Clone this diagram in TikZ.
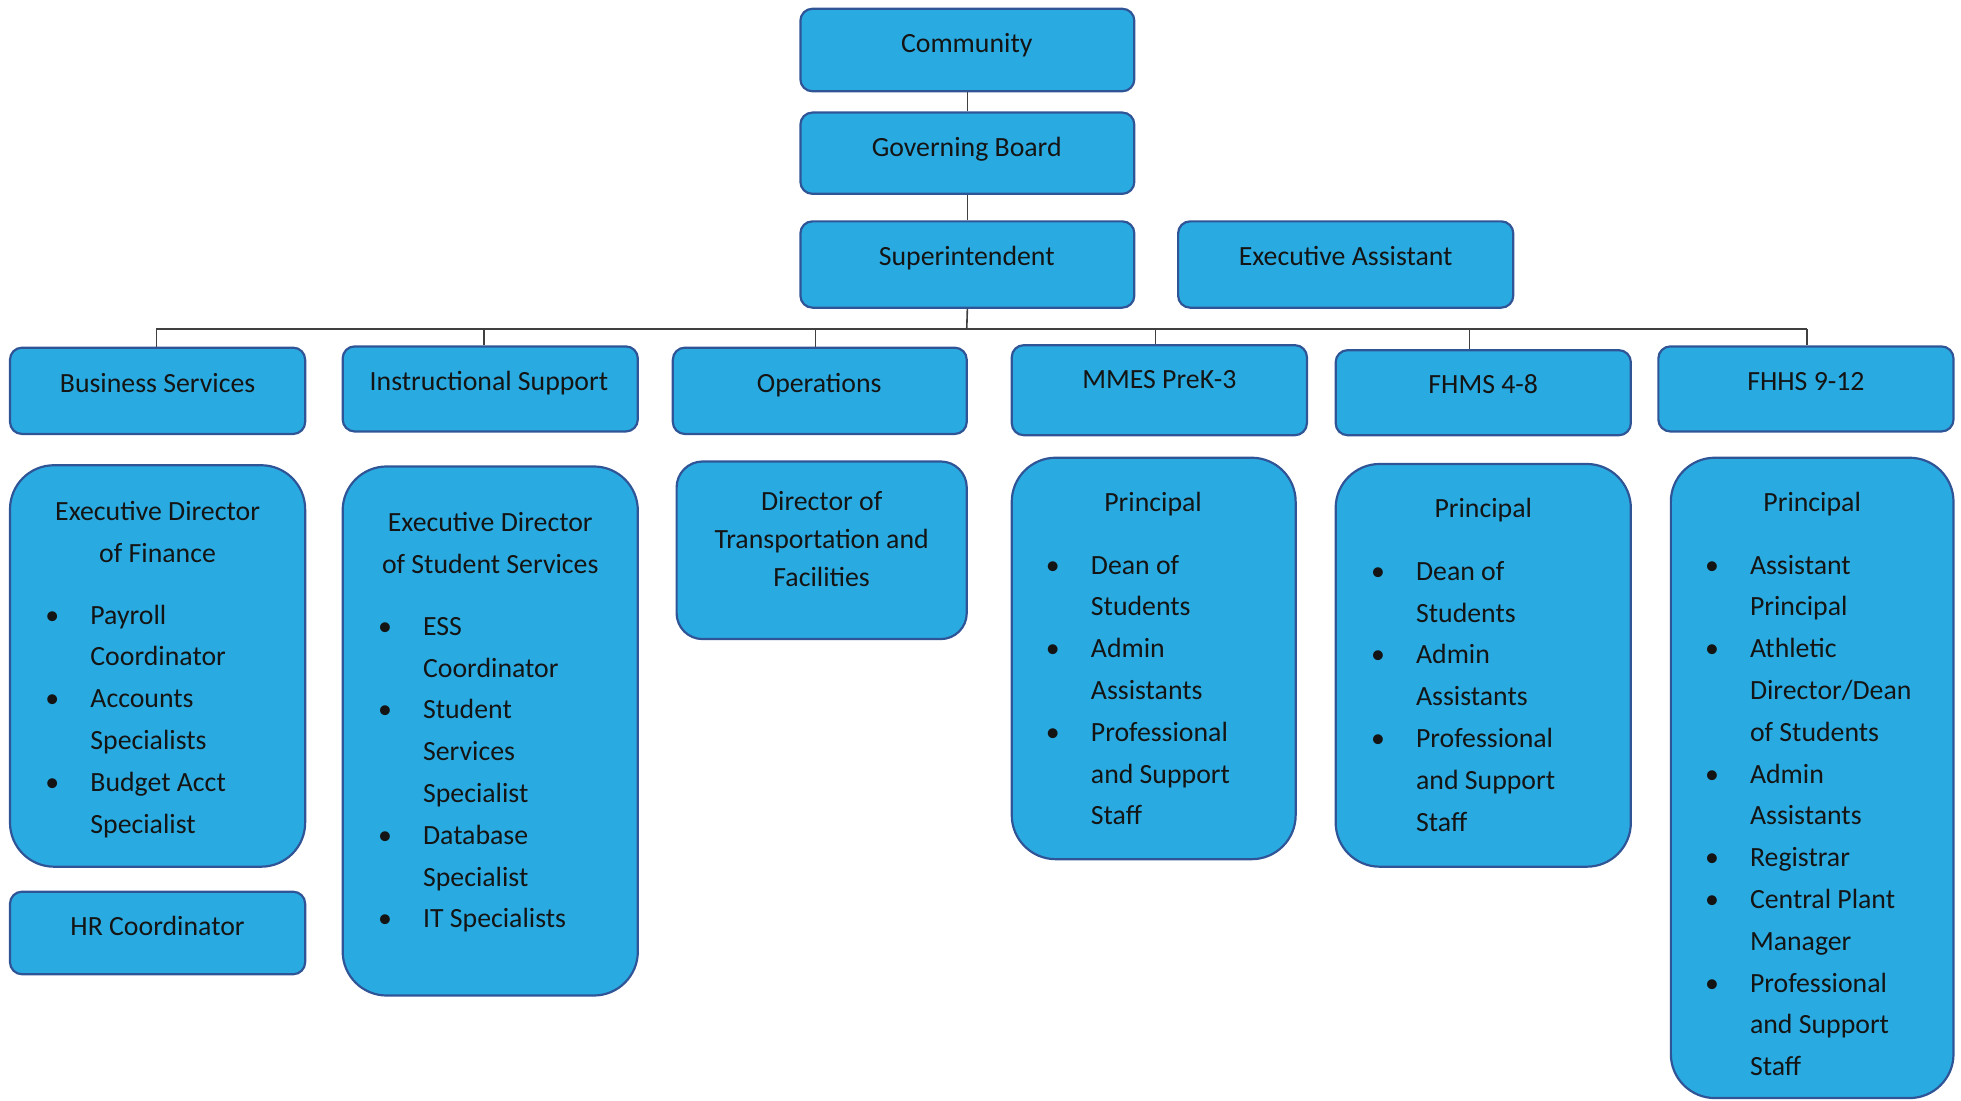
\documentclass[tikz,border=0pt]{standalone}
\usepackage{fontspec}
\setmainfont{Carlito}
\definecolor{boxfill}{HTML}{29ABE2}
\definecolor{boxedge}{HTML}{2F5597}
\definecolor{txt}{HTML}{141414}
\definecolor{linkgray}{HTML}{404040}
\tikzset{
  wh/.style 2 args={minimum width=#1*0.6253pt, minimum height=#2*0.6253pt},
  orgbox/.style={draw=boxedge, fill=boxfill, line width=1.1pt, rounded corners=6pt, inner sep=0pt},
  bigbox/.style={orgbox, rounded corners=22pt},
  midbox/.style={orgbox, rounded corners=13pt},
  lbl/.style={anchor=base, inner sep=0pt, text=txt, font=\fontsize{13.9}{20.9}\selectfont},
  lst/.style={anchor=base west, inner sep=0pt, text=txt, font=\fontsize{13.9}{20.9}\selectfont},
  link/.style={draw=linkgray, line width=0.8pt}
}
\begin{document}
\begin{tikzpicture}[x=0.6253pt,y=-0.6253pt]
\useasboundingbox (0,0) rectangle (1568,880);
% top chain
\node[orgbox, wh={267}{66}] (comm) at (773.5,40) {};
\node[orgbox, wh={267}{65}] (gov) at (773.5,122.5) {};
\node[orgbox, wh={267}{69}] (sup) at (773.5,211.5) {};
\node[orgbox, wh={268}{69}] (ea) at (1076,211.5) {};
% departments
\node[orgbox, wh={236}{69}] (bs) at (126,312.5) {};
\node[orgbox, wh={236}{68}] (is) at (392,311) {};
\node[orgbox, wh={235}{69}] (ops) at (655.5,312.5) {};
\node[orgbox, wh={236}{72}] (mmes) at (927,312) {};
\node[orgbox, wh={236}{68}] (fhms) at (1186,314) {};
\node[orgbox, wh={236}{68}] (fhhs) at (1444,311) {};
% detail boxes
\node[bigbox, wh={236}{321}] (fin) at (126,532.5) {};
\node[orgbox, wh={236}{66}] (hr) at (126,746) {};
\node[bigbox, wh={236}{423}] (ss) at (392,584.5) {};
\node[midbox, wh={232}{142}] (dir) at (657,440) {};
\node[bigbox, wh={227}{321}] (mp) at (922.5,526.5) {};
\node[bigbox, wh={236}{322}] (fp) at (1186,532) {};
\node[bigbox, wh={226}{512}] (hp) at (1449,622) {};
% connectors
\coordinate (bus) at (773,263);
\coordinate (t1) at (125,263);
\coordinate (t2) at (387,263);
\coordinate (t3) at (652,263);
\coordinate (t4) at (924,263);
\coordinate (t5) at (1175,263);
\coordinate (t6) at (1445,263);
\draw[link] (comm.south) -- (gov.north);
\draw[link] (gov.south) -- (sup.north);
\draw[link] (sup.south) -- (bus);
\draw[link] (t1) -- (t6);
\draw[link] (t1) -- (t1 |- bs.north);
\draw[link] (t2) -- (t2 |- is.north);
\draw[link] (t3) -- (t3 |- ops.north);
\draw[link] (t4) -- (t4 |- mmes.north);
\draw[link] (t5) -- (t5 |- fhms.north);
\draw[link] (t6) -- (t6 |- fhhs.north);
% labels
\node[lbl] (commT) at (773,42) {Community};
\node[lbl] (govT) at (773,125) {Governing Board};
\node[lbl] (supT) at (773,212) {Superintendent};
\node[lbl] (eaT) at (1076,212) {Executive Assistant};
\node[lbl] (bsT) at (126,314) {Business Services};
\node[lbl] (isT) at (391,312) {Instructional Support};
\node[lbl] (opsT) at (655,314) {Operations};
\node[lbl] (mmesT) at (927,311) {MMES PreK-3};
\node[lbl] (fhmsT) at (1186,315) {FHMS 4-8};
\node[lbl] (fhhsT) at (1444,312) {FHHS 9-12};
\node[lbl] (hrT) at (126,748) {HR Coordinator};
\node[lbl] (finT) at (126,416) {\begin{tabular}[t]{@{}c@{}}Executive Director\\of Finance\end{tabular}};
\node[lbl] (ssT) at (392,425) {\begin{tabular}[t]{@{}c@{}}Executive Director\\of Student Services\end{tabular}};
\node[lbl, font=\fontsize{13.9}{19.1}\selectfont] (dirT) at (657,408) {\begin{tabular}[t]{@{}c@{}}Director of\\Transportation and\\Facilities\end{tabular}};
\node[lbl] (mpT) at (922,409) {Principal};
\node[lbl] (fpT) at (1186,414) {Principal};
\node[lbl] (hpT) at (1449,409) {Principal};
% lists
\node[lst] (finL) at (36,499) {\begin{tabular}[t]{@{}p{22.5pt}@{}l@{}}
\textbullet & Payroll\\ & Coordinator\\
\textbullet & Accounts\\ & Specialists\\
\textbullet & Budget Acct\\ & Specialist\end{tabular}};
\node[lst] (ssL) at (302,508) {\begin{tabular}[t]{@{}p{22.5pt}@{}l@{}}
\textbullet & ESS\\ & Coordinator\\
\textbullet & Student\\ & Services\\ & Specialist\\
\textbullet & Database\\ & Specialist\\
\textbullet & IT Specialists\end{tabular}};
\node[lst] (mpL) at (836,459) {\begin{tabular}[t]{@{}p{22.5pt}@{}l@{}}
\textbullet & Dean of\\ & Students\\
\textbullet & Admin\\ & Assistants\\
\textbullet & Professional\\ & and Support\\ & Staff\end{tabular}};
\node[lst] (fpL) at (1096,464) {\begin{tabular}[t]{@{}p{22.5pt}@{}l@{}}
\textbullet & Dean of\\ & Students\\
\textbullet & Admin\\ & Assistants\\
\textbullet & Professional\\ & and Support\\ & Staff\end{tabular}};
\node[lst] (hpL) at (1363,459) {\begin{tabular}[t]{@{}p{22.5pt}@{}l@{}}
\textbullet & Assistant\\ & Principal\\
\textbullet & Athletic\\ & Director/Dean\\ & of Students\\
\textbullet & Admin\\ & Assistants\\
\textbullet & Registrar\\
\textbullet & Central Plant\\ & Manager\\
\textbullet & Professional\\ & and Support\\ & Staff\end{tabular}};
\end{tikzpicture}
\end{document}
